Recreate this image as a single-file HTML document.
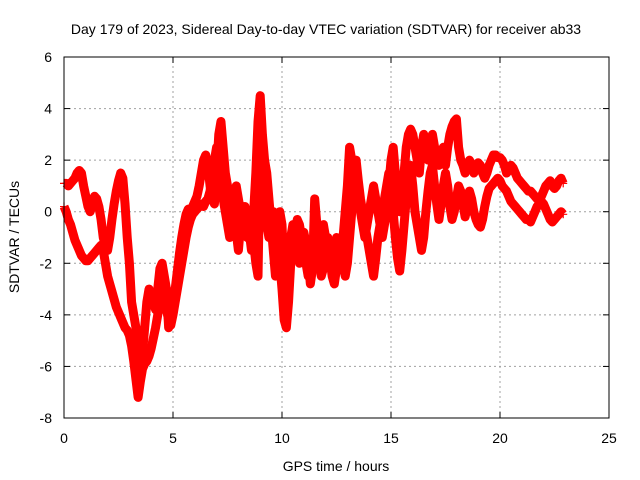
<!DOCTYPE html>
<html><head><meta charset="utf-8"><style>
body{margin:0;background:#fff}
svg{display:block;font-family:"Liberation Sans",sans-serif}
</style></head><body>
<svg id="chart" width="640" height="480" viewBox="0 0 640 480">
<rect width="640" height="480" fill="#fff"/>
<text x="326" y="34" font-size="14" text-anchor="middle">Day 179 of 2023, Sidereal Day-to-day VTEC variation (SDTVAR) for receiver ab33</text>
<text x="336" y="471" font-size="14" text-anchor="middle">GPS time / hours</text>
<text transform="translate(19,237) rotate(-90)" font-size="14" text-anchor="middle">SDTVAR / TECUs</text>
<g id="grid"></g><g id="ticks"></g><g id="marks"></g>
<rect x="64" y="57" width="545" height="361" fill="none" stroke="#000" stroke-width="1"/>
</svg>
<script>
const xTicks=[0,5,10,15,20,25];
const yTicks=[-8,-6,-4,-2,0,2,4,6];
const step=0.1;
const trackA=[0.2,0,-0.3,-0.5,-0.8,-1.1,-1.3,-1.5,-1.7,-1.8,
-1.9,-1.9,-1.8,-1.7,-1.6,-1.5,-1.4,-1.3,-1.5,-2.0,
-2.5,-2.8,-3.1,-3.4,-3.7,-3.9,-4.1,-4.3,-4.5,-4.6,
-4.8,-5.2,-5.8,-6.5,-7.2,-6.6,-6.1,-5.9,-5.8,-5.6,
-5.3,-4.9,-4.5,-4.0,-3.5,-3.0,-3.3,-3.8,-4.2,-4.4,
-4.0,-3.5,-3.0,-2.5,-2.0,-1.5,-1.0,-0.6,-0.3,-0.1,
0,0.1,0.2,0.3,0.2,0.4,0.5,0.8,1.5,2.0,
2.5,2.0,1.2,0.5,0,-0.5,-1.0,-0.5,0,-0.8,
-1.5,-0.5,0.2,-0.3,-1.0,-0.5,-0.2,-1.2,-2.0,-2.5,
2.5,1.5,0.5,-0.5,-1.0,-0.3,0,-0.8,-1.5,-2.0,
-3.0,-4.2,-4.5,-3.5,-2.0,-1.5,-0.8,-0.3,-0.5,-1.0,
-1.5,-2.0,-2.5,-1.8,-1.2,-1.0,-1.5,-2.0,-2.5,-2.2,
-1.5,-1.0,-1.8,-2.5,-2.8,-2.2,-1.5,-1.2,-2.0,-2.5,
-2.0,-1.0,0,1.5,2.0,1.2,0.5,0,-0.5,-1.0,
-1.5,-2.0,-2.5,-1.8,-1.0,-0.5,0,0.5,1.0,1.5,
1.0,0,-1.0,-1.8,-2.3,-1.5,-0.5,0.5,1.0,1.8,
1.0,0,-0.5,-1.0,-1.5,-1.0,0,0.8,1.5,1.8,
1.0,0.3,-0.3,0.3,1.0,1.5,1.0,0.2,-0.3,0,
0.5,1.0,0.8,0.3,-0.2,0.2,0.8,0.5,0,-0.3,
-0.5,-0.6,-0.3,0.2,0.6,0.9,1.0,1.1,1.2,1.3,
1.2,1.0,0.9,0.8,0.6,0.4,0.3,0.2,0.1,0,
-0.1,-0.2,-0.3,-0.3,-0.4,-0.2,0,0.2,0.3,0.4,
0.3,0.1,-0.1,-0.3,-0.4,-0.3,-0.2,-0.1,0,-0.1];
const trackB=[1.1,1.1,1.0,1.1,1.2,1.3,1.5,1.6,1.5,1.0,
0.6,0.2,0.0,0.3,0.6,0.5,0.2,-0.3,-1.0,-1.3,
-1.5,-1.0,-0.3,0.3,0.8,1.2,1.5,1.3,0.3,-1.0,
-2.0,-3.5,-4.0,-4.5,-5.5,-6.2,-5.5,-4.5,-3.5,-3.0,
-3.2,-3.5,-3.8,-3.0,-2.2,-2.0,-2.5,-3.0,-4.5,-4.0,
-3.5,-3.0,-2.3,-1.6,-1.0,-0.5,-0.1,0.1,0,0.2,
0.4,0.6,1.0,1.5,2.0,2.2,1.8,1.0,0.5,0.3,
1.5,3.0,3.5,2.5,1.5,1.0,0.5,0.2,0.5,1.0,
0.5,0,-0.3,0.2,-0.2,-0.8,-1.5,0,1.5,3.5,
4.5,3.0,2.0,1.5,0.5,-0.5,-1.5,-2.5,-0.5,0,
-0.5,-2.5,-3.5,-2.5,-1.0,-0.5,-1.0,-1.5,-2.0,-1.5,
-0.8,-1.2,-1.8,-2.8,-2.2,0.5,-0.5,-1.5,-1.0,-0.5,
-1.0,-1.5,-2.0,-2.0,-1.5,-1.0,-1.5,-2.2,-1.0,0,
1.0,2.5,2.0,1.5,1.0,0.5,0,-0.5,-1.0,-0.5,
0,0.5,1.0,0.5,0,-0.5,-1.0,-0.5,0,1.0,
2.0,2.5,1.5,0.5,0,0.5,1.5,2.5,3.0,3.2,
3.0,2.5,2.0,1.5,2.5,3.0,2.5,2.0,2.5,3.0,
2.5,2.0,1.8,2.2,2.5,1.8,2.5,3.0,3.3,3.5,
3.6,2.5,2.0,1.8,1.5,1.8,2.0,1.8,1.5,1.7,
1.9,1.8,1.5,1.3,1.5,1.8,2.0,2.2,2.2,2.1,
2.1,2.0,1.8,1.5,1.6,1.8,1.7,1.5,1.3,1.2,
1.1,1.0,0.9,0.8,0.8,0.7,0.6,0.5,0.5,0.6,
0.8,1.0,1.1,1.2,1.0,0.9,1.0,1.2,1.3,1.1];
const NS='http://www.w3.org/2000/svg';
const X0=64,X1=609,Y0=418,Y1=57;
const xs=v=>X0+(v-0)/25*(X1-X0);
const ys=v=>Y0-(v+8)/14*(Y0-Y1);
function mk(tag,attrs,parent){const e=document.createElementNS(NS,tag);for(const k in attrs)e.setAttribute(k,attrs[k]);parent.appendChild(e);return e;}
const grid=document.getElementById('grid'),ticks=document.getElementById('ticks'),marks=document.getElementById('marks');
xTicks.forEach(t=>{const x=xs(t);
 if(t>0&&t<25){const g=mk('line',{x1:x,x2:x,y1:Y0,y2:Y1,stroke:'#a0a0a0','stroke-dasharray':'2,3'},grid);
 
 }
 mk('line',{x1:x,x2:x,y1:Y0,y2:Y0-6,stroke:'#000'},ticks);
 mk('line',{x1:x,x2:x,y1:Y1,y2:Y1+6,stroke:'#000'},ticks);
 const l=mk('text',{x:x,y:443,'font-size':14,'text-anchor':'middle'},ticks);l.textContent=t;
 
 
});
yTicks.forEach(t=>{const y=ys(t);
 if(t>-8&&t<6){const g=mk('line',{x1:X0,x2:X1,y1:y,y2:y,stroke:'#a0a0a0','stroke-dasharray':'2,3'},grid);
 
 }
 mk('line',{x1:X0,x2:X0+6,y1:y,y2:y,stroke:'#000'},ticks);
 mk('line',{x1:X1,x2:X1-6,y1:y,y2:y,stroke:'#000'},ticks);
 const l=mk('text',{x:52,y:y+5,'font-size':14,'text-anchor':'end'},ticks);l.textContent=t;
 
 
});
[trackA,trackB].forEach((arr,si)=>{
 const pts=arr.map((v,i)=>xs(i*step)+','+ys(v)).join(' ');
 const pl=mk('polyline',{points:pts,fill:'none',stroke:'#ff0000','stroke-width':9,'stroke-linejoin':'round'},marks);
 
 
 arr.forEach((v,i)=>{const x=xs(i*step),y=ys(v);
  const p=mk('path',{d:`M${x-4},${y}h8M${x},${y-4}v8`,stroke:'#ff0000','stroke-width':1.2},marks);
  
  
 });
});
</script>
</body></html>
